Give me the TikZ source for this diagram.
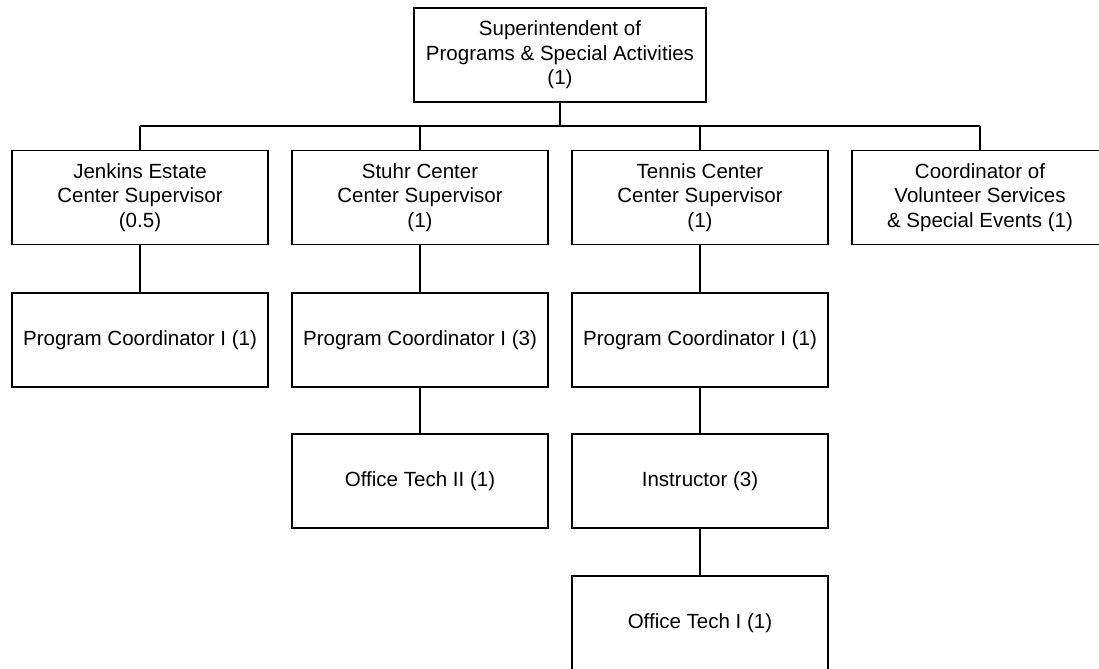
\documentclass[tikz,border=0pt]{standalone}
\usepackage{fontspec}
\setmainfont{Liberation Sans}
\usepackage{tikz}

\begin{document}
\begin{tikzpicture}[line width=1.2pt,
  box/.style={draw,rectangle,minimum width=6.4cm,minimum height=2.35cm,
    align=center,inner sep=2pt,font=\fontsize{14.6pt}{17.5pt}\selectfont}]
\useasboundingbox (0,0) rectangle (27.475,16.7);
\clip (0,0) rectangle (27.475,16.7);
\node[box,minimum width=7.3cm] (sup) at (14,15.325) {Superintendent of\\Programs \& Special Activities\\(1)};
\node[box] (jen) at (3.5,11.7625) {Jenkins Estate\\Center Supervisor\\(0.5)};
\node[box] (stu) at (10.5,11.7625) {Stuhr Center\\Center Supervisor\\(1)};
\node[box] (ten) at (17.5,11.7625) {Tennis Center\\Center Supervisor\\(1)};
\node[box] (vol) at (24.5,11.7625) {Coordinator of\\Volunteer Services\\\& Special Events (1)};
\node[box] (jenpc) at (3.5,8.2) {Program Coordinator I (1)};
\node[box] (stupc) at (10.5,8.2) {Program Coordinator I (3)};
\node[box] (tenpc) at (17.5,8.2) {Program Coordinator I (1)};
\node[box] (stuot) at (10.5,4.675) {Office Tech II (1)};
\node[box] (tenin) at (17.5,4.675) {Instructor (3)};
\node[box] (tenot) at (17.5,1.125) {Office Tech I (1)};
\coordinate (bus) at (0,13.55);
% top level
\draw (sup.south) -- (sup.south |- bus);
\draw (jen.north |- bus) -- (vol.north |- bus);
\foreach \n in {jen,stu,ten,vol}
  \draw (\n.north |- bus) -- (\n.north);
% columns
\draw (jen) -- (jenpc);
\draw (stu) -- (stupc);
\draw (stupc) -- (stuot);
\draw (ten) -- (tenpc);
\draw (tenpc) -- (tenin);
\draw (tenin) -- (tenot);
\end{tikzpicture}
\end{document}
